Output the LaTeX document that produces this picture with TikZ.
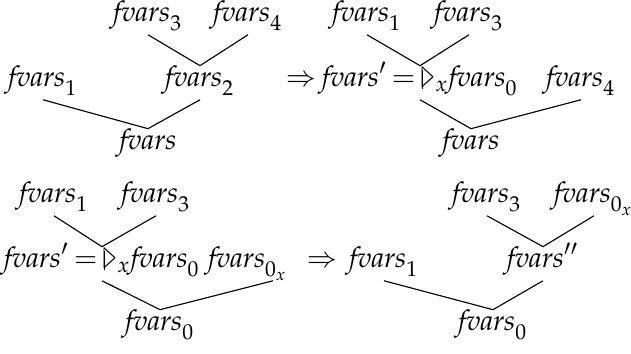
\documentclass[tikz,border=0pt]{standalone}
\usepackage{amssymb}
\usepackage{mathpazo}
\newcommand{\fv}{\mathit{fvars}}
\newcommand{\tribar}{\mathord{\vrule height 5.9pt depth 0.7pt width 0.4pt\kern-0.9pt
  \scalebox{0.65}[1.25]{$\vartriangleright$}}}

\begin{document}
\begin{tikzpicture}[x=0.352pt, y=-0.352pt,
    every node/.style={anchor=base, inner xsep=0pt, inner ysep=1.3pt,
      text height=6pt, text depth=3pt}]
  \useasboundingbox (0,0) rectangle (631,354);
  % first tree
  \node (a3) at (148,22) {$\fv_3$};
  \node (a4) at (248,22) {$\fv_4$};
  \node (a1) at (43,87) {$\fv_1$};
  \node (a2) at (200,87) {$\fv_2$};
  \node (a) at (148,150) {$\fv$};
  \draw (a3.south) -- (a2.north) -- (a4.south);
  \draw (a1.south) -- (a.north) -- (a2.south);
  \node (ar) at (301,87) {$\Rightarrow$};
  % second tree
  \node (b1) at (367,22) {$\fv_1$};
  \node (b3) at (469,22) {$\fv_3$};
  \node (bp) at (420,87) {$\fv'\mkern-2mu=\mkern-1mu\tribar_x\fv_0$};
  \node (b4) at (581,87) {$\fv_4$};
  \node (b) at (471,150) {$\fv$};
  \draw (b1.south) -- (bp.north) -- (b3.south);
  \draw (bp.south) -- (b.north) -- (b4.south);
  % third tree
  \node (c1) at (54,203) {$\fv_1$};
  \node (c3) at (156,203) {$\fv_3$};
  \node (cp) at (102,268) {$\fv'\mkern-2mu=\mkern-1mu\tribar_x\fv_0$};
  \node (cz) at (273,268) {$\fv_{0_x}\hspace{4pt}\Rightarrow$};
  \node (c) at (160,331) {$\fv_0$};
  \draw (c1.south) -- (cp.north) -- (c3.south);
  \draw (cp.south) -- (c.north) -- (cz.south);
  % fourth tree
  \node (d3) at (487,203) {$\fv_3$};
  \node (dz) at (594,203) {$\fv_{0_x}$};
  \node (d1) at (384,268) {$\fv_1$};
  \node (dpp) at (543,268) {$\fv''$};
  \node (d) at (493,331) {$\fv_0$};
  \draw (d3.south) -- (dpp.north) -- (dz.south);
  \draw (d1.south) -- (d.north) -- (dpp.south);
\end{tikzpicture}
\end{document}
